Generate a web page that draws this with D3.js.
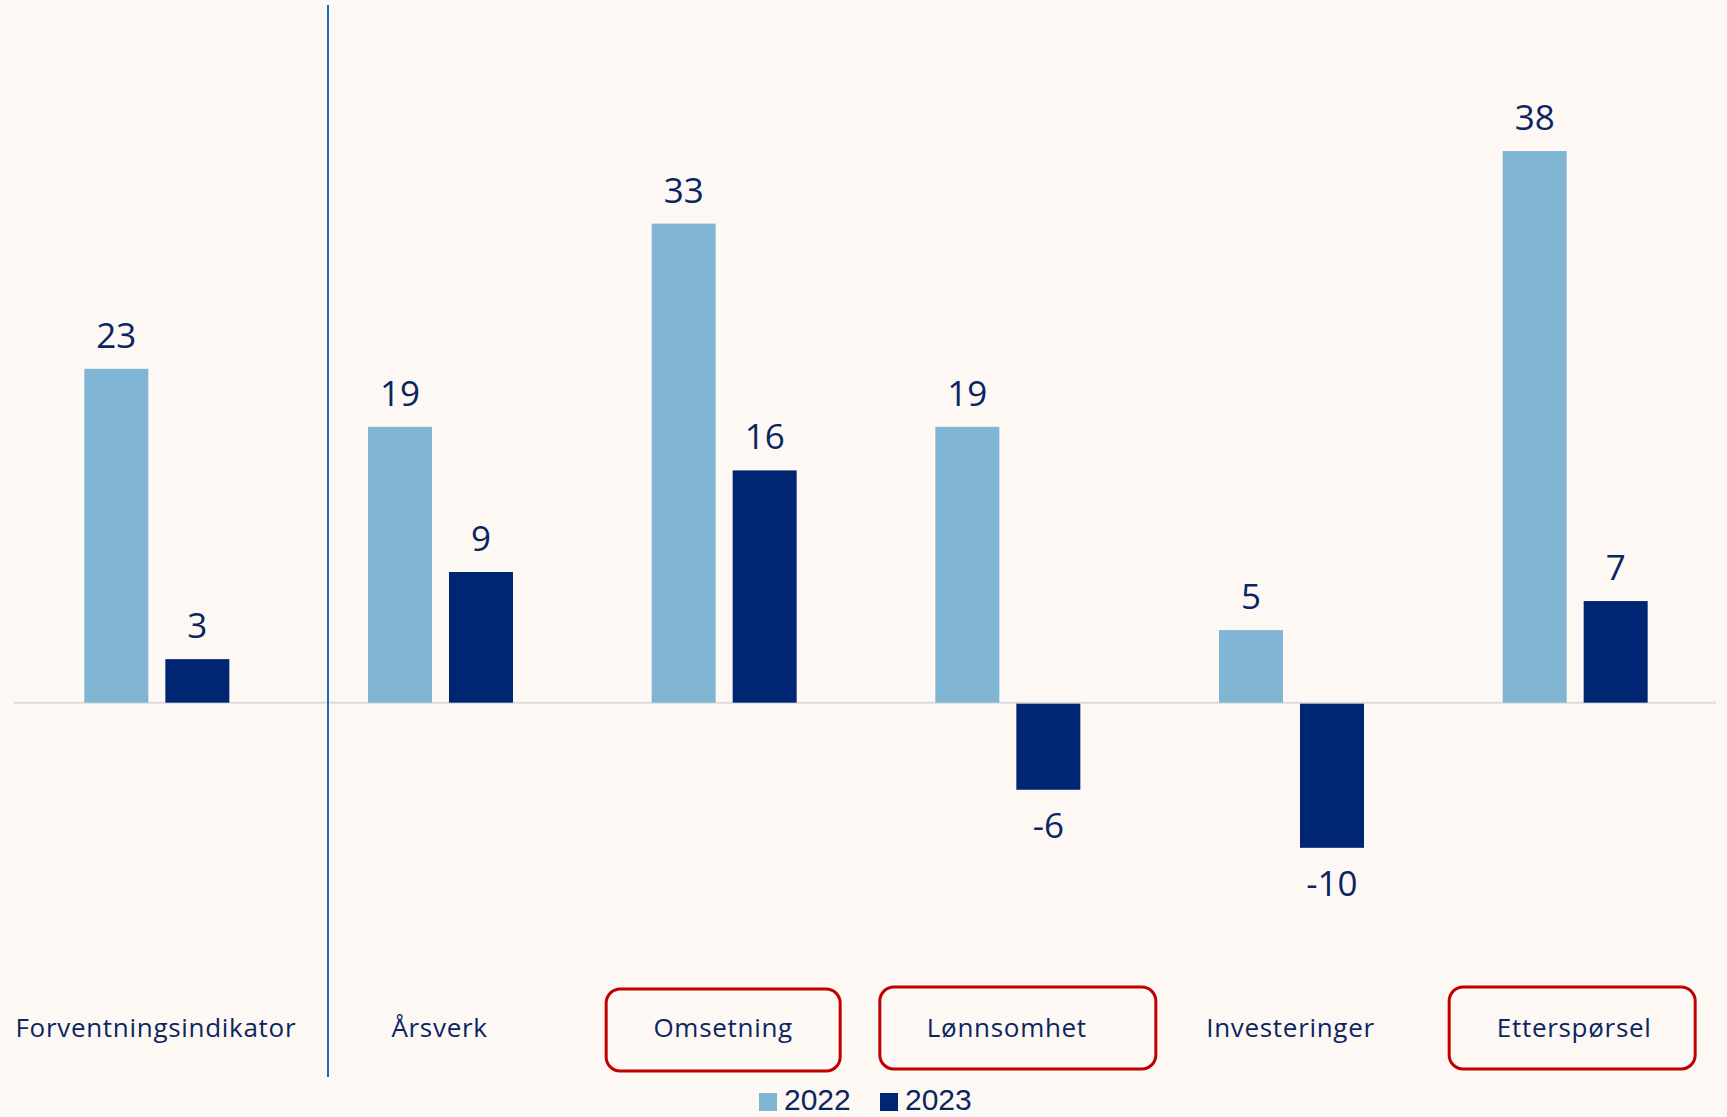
<!DOCTYPE html>
<html>
<head>
<meta charset="utf-8">
<script src="https://cdn.jsdelivr.net/npm/d3@7"></script>
<style>
  body { margin: 0; background: #fdf8f4; }
  svg { display: block; }
</style>
</head>
<body>
<div id="grafica"></div>
<script>
// data
var categories = ["Forventningsindikator", "Årsverk", "Omsetning", "Lønnsomhet", "Investeringer", "Etterspørsel"];
var series = ["2022", "2023"];
var values2022 = [23, 19, 33, 19, 5, 38];
var values2023 = [3, 9, 16, -6, -10, 7];
var highlighted = ["Omsetning", "Lønnsomhet", "Etterspørsel"];

var width = 1727, height = 1117;
var colors = { "2022": "#80b5d4", "2023": "#002673" };
var textColor = "#0b2561";
// red frames round some labels (hand drawn, so not all the same size)
var frames = {
  "Omsetning":    { dx: 0,  w: 234, h: 82, y: -39 },
  "Lønnsomhet":   { dx: 11, w: 276, h: 82, y: -41 },
  "Etterspørsel": { dx: -2, w: 246, h: 82, y: -41 }
};

var svg = d3.select("#grafica")
  .append("svg")
    .attr("width", width)
    .attr("height", height)
    .style("background", "#fdf8f4");

var rows = categories.map(function(c, i) {
  return { cat: c, vals: [ { s: "2022", v: values2022[i] }, { s: "2023", v: values2023[i] } ] };
});

// scales
var x = d3.scaleBand()
  .domain(categories)
  .range([14, 1716]);

var groupWidth = 145;
var x1 = d3.scaleBand()
  .domain(series)
  .range([0, groupWidth])
  .paddingInner(0.21);

var y = d3.scaleLinear()
  .domain([-20, 40])
  .range([993, 122]);

// zero line
svg.append("line")
  .attr("x1", x.range()[0])
  .attr("x2", x.range()[1])
  .attr("y1", y(0))
  .attr("y2", y(0))
  .attr("stroke", "#dcdcdc")
  .attr("stroke-width", 2);

// separator after the indicator
svg.append("line")
  .attr("x1", 328).attr("x2", 328)
  .attr("y1", 5).attr("y2", 1077)
  .attr("stroke", "#1a6cb8")
  .attr("stroke-width", 2);

var groups = svg.selectAll("g.group")
  .data(rows)
  .enter().append("g")
    .attr("class", "group")
    .attr("transform", function(d) {
      return "translate(" + (x(d.cat) + (x.bandwidth() - groupWidth) / 2 + 1) + ",0)";
    });

groups.selectAll("rect")
  .data(function(d) { return d.vals; })
  .enter().append("rect")
    .attr("x", function(d) { return x1(d.s); })
    .attr("width", x1.bandwidth())
    .attr("y", function(d) { return d.v >= 0 ? y(d.v) : y(0) + 1; })
    .attr("height", function(d) { return Math.abs(y(d.v) - y(0)) - (d.v < 0 ? 1 : 0); })
    .attr("fill", function(d) { return colors[d.s]; });

// value labels
groups.selectAll("text.val")
  .data(function(d) { return d.vals; })
  .enter().append("text")
    .attr("class", "val")
    .attr("x", function(d) { return x1(d.s) + x1.bandwidth() / 2; })
    .attr("y", function(d) { return d.v >= 0 ? y(d.v) - 21 : y(d.v) + 48; })
    .attr("text-anchor", "middle")
    .style("font-family", "'Open Sans', sans-serif")
    .style("font-size", "35px")
    .style("fill", textColor)
    .text(function(d) { return d.v; });

// category labels
var labels = svg.selectAll("g.lab")
  .data(categories)
  .enter().append("g")
    .attr("class", "lab")
    .attr("transform", function(d) { return "translate(" + (x(d) + x.bandwidth() / 2) + ",1028)"; });

labels.filter(function(d) { return highlighted.indexOf(d) >= 0; })
  .append("rect")
    .attr("x", function(d) { return frames[d].dx - frames[d].w / 2; })
    .attr("y", function(d) { return frames[d].y; })
    .attr("width", function(d) { return frames[d].w; })
    .attr("height", function(d) { return frames[d].h; })
    .attr("rx", 14)
    .attr("fill", "none")
    .attr("stroke", "#c00000")
    .attr("stroke-width", 3);

labels.append("text")
  .attr("text-anchor", "middle")
  .attr("dy", "0.35em")
  .style("font-family", "'Open Sans', sans-serif")
  .style("font-size", "26px")
  .style("letter-spacing", "0.7px")
  .style("fill", textColor)
  .text(function(d) { return d; });

// legend
var legend = svg.selectAll("g.leg")
  .data(series)
  .enter().append("g")
    .attr("class", "leg")
    .attr("transform", function(d, i) { return "translate(" + (759 + i * 121) + ",0)"; });

legend.append("rect")
  .attr("y", 1093)
  .attr("width", 18)
  .attr("height", 18)
  .attr("fill", function(d) { return colors[d]; });

legend.append("text")
  .attr("x", 25)
  .attr("y", 1110)
  .style("font-family", "'Liberation Sans', Arial, sans-serif")
  .style("font-size", "30px")
  .style("fill", textColor)
  .text(function(d) { return d; });
</script>
</body>
</html>
